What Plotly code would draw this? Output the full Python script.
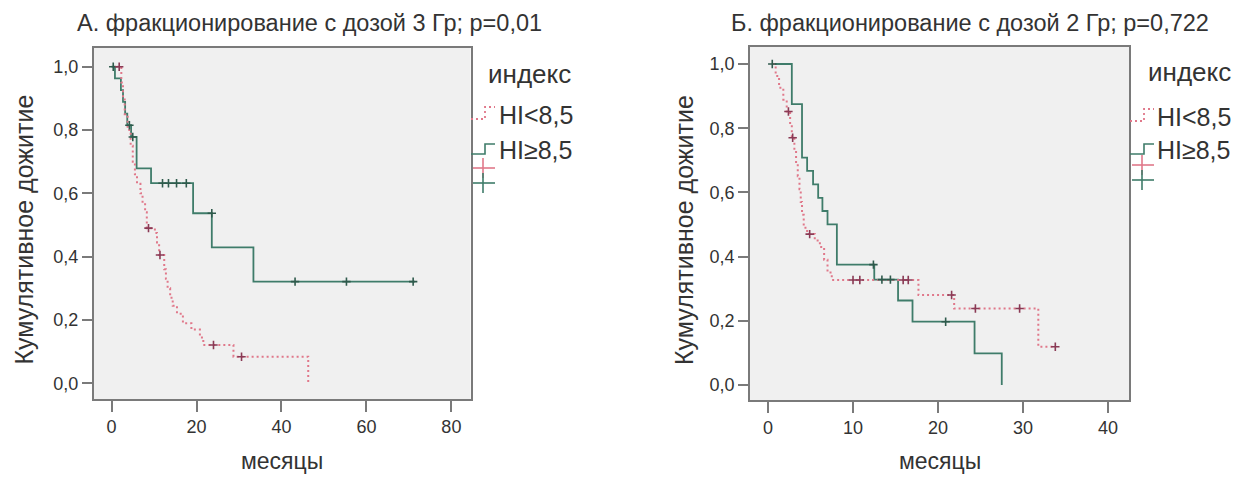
import plotly.graph_objects as go

W, H = 1246, 483
OFF = 8  # page body margin
FW, FH = W - 2 * OFF, H - 2 * OFF

# ---------------- data ----------------
titles = ["А. фракционирование с дозой 3 Гр; p=0,01",
          "Б. фракционирование с дозой 2 Гр; p=0,722"]
group_names = ["HI<8,5", "HI≥8,5"]
legend_title = "индекс"
y_title = "Кумулятивное дожитие"
x_title = "месяцы"
left_xticks = [0, 20, 40, 60, 80]
right_xticks = [0, 10, 20, 30, 40]
yticks = [0.0, 0.2, 0.4, 0.6, 0.8, 1.0]

# Panel A, HI<8,5 (red, dotted)
a_low_t = [1.2, 2.3, 2.7, 3.1, 3.8, 4.5, 5.0, 5.5, 6.0, 6.8, 7.3, 7.9, 8.3, 10.2, 10.7, 11.2,
           12.4, 12.8, 13.2, 13.8, 14.4, 15.4, 16.8, 18.8, 20.8, 21.6, 28.7, 46.3]
a_low_s = [1.0, 0.95, 0.90, 0.85, 0.80, 0.75, 0.70, 0.66, 0.63, 0.60, 0.57, 0.54, 0.49, 0.475, 0.445, 0.405,
           0.36, 0.33, 0.30, 0.27, 0.245, 0.22, 0.19, 0.17, 0.145, 0.121, 0.084, 0.0]
a_low_cens_t = [1.8, 8.7, 11.4, 24.0, 30.6]
a_low_cens_s = [1.0, 0.49, 0.405, 0.121, 0.084]

# Panel A, HI>=8,5 (green, solid)
a_high_t = [0.0, 0.8, 2.2, 2.7, 3.2, 3.7, 4.6, 5.9, 9.3, 19.2, 23.6, 33.4, 71.4]
a_high_s = [1.0, 0.963, 0.926, 0.889, 0.852, 0.815, 0.778, 0.679, 0.632, 0.537, 0.429, 0.321, 0.321]
a_high_cens_t = [0.4, 4.2, 5.0, 12.0, 13.4, 15.3, 17.6, 23.6, 43.2, 55.3, 71.0]
a_high_cens_s = [1.0, 0.815, 0.778, 0.632, 0.632, 0.632, 0.632, 0.537, 0.321, 0.321, 0.321]

# Panel B, HI<8,5
b_low_t = [0.6, 0.9, 1.3, 1.8, 2.2, 2.6, 2.8, 3.1, 3.3, 3.5, 3.7, 3.85, 4.0, 4.2, 4.6, 5.5, 6.1,
           6.6, 7.0, 7.5, 17.7, 21.9, 31.8, 33.8]
b_low_s = [1.0, 0.963, 0.926, 0.889, 0.852, 0.81, 0.77, 0.73, 0.69, 0.65, 0.61, 0.57, 0.53, 0.49, 0.47, 0.45, 0.43,
           0.39, 0.35, 0.327, 0.28, 0.238, 0.119, 0.119]
b_low_cens_t = [2.4, 2.9, 4.9, 10.0, 10.8, 15.9, 16.5, 21.6, 24.4, 29.6, 33.8]
b_low_cens_s = [0.852, 0.77, 0.47, 0.327, 0.327, 0.327, 0.327, 0.28, 0.238, 0.238, 0.119]

# Panel B, HI>=8,5
b_high_t = [0.5, 2.8, 4.0, 4.6, 5.3, 5.9, 6.4, 7.0, 8.1, 12.5, 15.3, 17.0, 24.3, 27.5]
b_high_s = [1.0, 0.875, 0.708, 0.667, 0.625, 0.583, 0.542, 0.5, 0.375, 0.328, 0.263, 0.197, 0.098, 0.0]
b_high_cens_t = [0.5, 12.4, 13.4, 14.4, 20.9]
b_high_cens_s = [1.0, 0.375, 0.328, 0.328, 0.197]

# ---------------- styles ----------------
RED = "#e0788a"
RED_DARK = "#8a3a55"
GREEN = "#3f7c6a"
GREEN_DARK = "#2f5a4c"
FRAME = "#7a7a7a"
TXT = "#333333"
FONT = "Liberation Sans, Arial, sans-serif"


def px_x(p):
    return (p - OFF) / FW


def px_y(p):
    return 1 - (p - OFF) / FH


fig = go.Figure()

panels = [
    dict(xa="x", ya="y", low=(a_low_t, a_low_s, a_low_cens_t, a_low_cens_s),
         high=(a_high_t, a_high_s, a_high_cens_t, a_high_cens_s)),
    dict(xa="x2", ya="y2", low=(b_low_t, b_low_s, b_low_cens_t, b_low_cens_s),
         high=(b_high_t, b_high_s, b_high_cens_t, b_high_cens_s)),
]

for p in panels:
    lt, ls, lct, lcs = p["low"]
    ht, hs, hct, hcs = p["high"]
    fig.add_trace(go.Scatter(x=ht, y=hs, mode="lines", line=dict(color=GREEN, width=1.8, shape="hv"),
                             xaxis=p["xa"], yaxis=p["ya"], showlegend=False, name=group_names[1]))
    fig.add_trace(go.Scatter(x=lt, y=ls, mode="lines",
                             line=dict(color=RED, width=2, shape="hv", dash="2px,3px"),
                             xaxis=p["xa"], yaxis=p["ya"], showlegend=False, name=group_names[0]))
    fig.add_trace(go.Scatter(x=hct, y=hcs, mode="markers",
                             marker=dict(symbol="cross-thin", size=6, line=dict(color=GREEN_DARK, width=1.6)),
                             xaxis=p["xa"], yaxis=p["ya"], showlegend=False))
    fig.add_trace(go.Scatter(x=lct, y=lcs, mode="markers",
                             marker=dict(symbol="cross-thin", size=6, line=dict(color=RED_DARK, width=1.6)),
                             xaxis=p["xa"], yaxis=p["ya"], showlegend=False))

axis_common = dict(showgrid=False, zeroline=False, showline=True, mirror=True, linecolor=FRAME, linewidth=1.5,
                   ticks="outside", tickwidth=1.5, tickcolor=FRAME,
                   tickfont=dict(family=FONT, size=18, color=TXT))

fig.update_layout(
    width=FW, height=FH, margin=dict(l=0, r=0, t=0, b=0),
    paper_bgcolor="white", plot_bgcolor="#f0f0f0",
    separators=", ",
    showlegend=False,
    xaxis=dict(domain=[px_x(93.7), px_x(470.5)], range=[-4.2, 84.5], tickvals=left_xticks, anchor="y",
               ticklen=11, **axis_common),
    yaxis=dict(domain=[px_y(399), px_y(48)], range=[-0.0496, 1.059], tickvals=yticks, tickformat=".1f",
               anchor="x", ticklen=10, **axis_common),
    xaxis2=dict(domain=[px_x(750), px_x(1129)], range=[-2.12, 42.47], tickvals=right_xticks, anchor="y2",
                ticklen=11, **axis_common),
    yaxis2=dict(domain=[px_y(400), px_y(47)], range=[-0.047, 1.053], tickvals=yticks, tickformat=".1f",
                anchor="x2", ticklen=10, **axis_common),
)


def add_text(xp, yp, text, size, xanchor="center", yanchor="middle", angle=0):
    fig.add_annotation(x=px_x(xp), y=px_y(yp), xref="paper", yref="paper", text=text, showarrow=False,
                       xanchor=xanchor, yanchor=yanchor, textangle=angle, borderpad=0,
                       font=dict(family=FONT, size=size, color=TXT))


# titles (box anchored at the top of the figure)
add_text(309, 8.5, titles[0], 23.5, yanchor="top")
add_text(970, 8.5, titles[1], 23.5, yanchor="top")

# axis titles
add_text(8.5, 230, y_title, 25, xanchor="left", angle=-90)
add_text(669, 230, y_title, 25, xanchor="left", angle=-90)
add_text(282, 461, x_title, 23)
add_text(940, 461, x_title, 23)


# legends (drawn manually like SPSS)
def legend(x0, title_cx, text_x, y_title_px, y1, y2, yc1, yc2):
    add_text(title_cx, y_title_px, legend_title, 26)
    add_text(text_x, y1, group_names[0], 25, xanchor="left")
    add_text(text_x, y2, group_names[1], 25, xanchor="left")
    # red dotted step glyph
    fig.add_shape(type="path", xref="paper", yref="paper",
                  path=f"M {px_x(x0)} {px_y(y1 + 4)} L {px_x(x0 + 14)} {px_y(y1 + 4)} L {px_x(x0 + 14)} {px_y(y1 - 8)} L {px_x(x0 + 24)} {px_y(y1 - 8)}",
                  line=dict(color=RED, width=1.8, dash="2px,3px"))
    # green solid step glyph
    fig.add_shape(type="path", xref="paper", yref="paper",
                  path=f"M {px_x(x0)} {px_y(y2 + 4)} L {px_x(x0 + 14)} {px_y(y2 + 4)} L {px_x(x0 + 14)} {px_y(y2 - 6)} L {px_x(x0 + 24)} {px_y(y2 - 6)}",
                  line=dict(color=GREEN, width=1.6))
    # censored glyphs
    for yc, col in ((yc1, RED), (yc2, GREEN)):
        fig.add_shape(type="line", xref="paper", yref="paper", x0=px_x(x0 + 2), x1=px_x(x0 + 24),
                      y0=px_y(yc), y1=px_y(yc), line=dict(color=col, width=1.6))
        fig.add_shape(type="line", xref="paper", yref="paper", x0=px_x(x0 + 12), x1=px_x(x0 + 12),
                      y0=px_y(yc - 10), y1=px_y(yc + 10), line=dict(color=col, width=1.6))


legend(471, 529, 498, 74, 115, 150, 168, 183)
legend(1130, 1189, 1156, 72, 117, 150, 165, 180)

fig.write_html("out.html")
